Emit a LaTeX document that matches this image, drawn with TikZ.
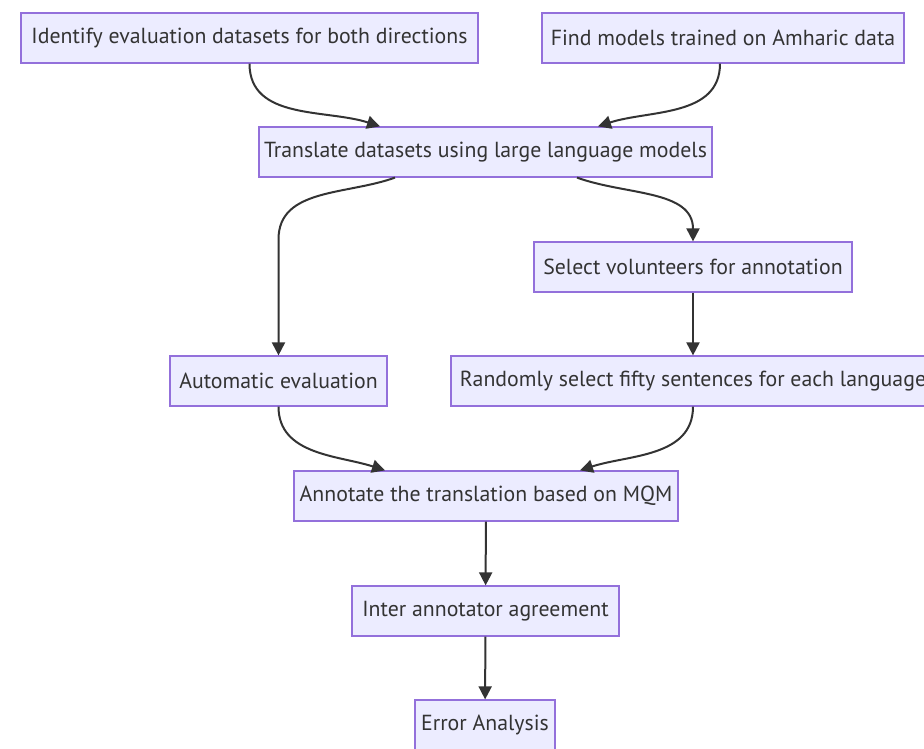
\documentclass[tikz,border=0pt]{standalone}
\usepackage{fontspec}
\setmainfont{PT Sans}
\usetikzlibrary{arrows.meta}
\definecolor{boxfill}{HTML}{ECECFF}
\definecolor{boxline}{HTML}{9370DB}
\definecolor{ink}{HTML}{333333}
\begin{document}
\begin{tikzpicture}[x=1pt,y=1pt]
		\tikzset{task/.style = {shape=rectangle,draw=boxline,fill=boxfill,line width=1.2pt,text=ink,minimum height=50pt,inner sep=0pt,font=\fontsize{21.8}{26}\selectfont}}
		\tikzset{flow/.style = {-{Triangle[length=13pt,width=13pt]},draw=ink,line width=2pt}}
		\useasboundingbox (0,0) rectangle (924,749);
		\node[task,minimum width=457pt] (ident) at (249.5,711) {Identify evaluation datasets for both directions};
		\node[task,minimum width=362pt] (find) at (723,711) {Find models trained on Amharic data};
		\node[task,minimum width=453pt] (trans) at (485.5,597) {Translate datasets using large language models};
		\node[task,minimum width=318pt] (select) at (693,482) {Select volunteers for annotation};
		\node[task,minimum width=217pt] (autom) at (278.5,368) {Automatic evaluation};
		\node[task,minimum width=484pt] (random) at (693,368) {Randomly select fifty sentences for each language};
		\node[task,minimum width=384pt] (annot) at (486,253) {Annotate the translation based on MQM};
		\node[task,minimum width=267pt] (inter) at (485.5,138) {Inter annotator agreement};
		\node[task,minimum width=140pt] (error) at (485,24) {Error Analysis};
		\draw[flow] (ident.south) to[out=-90,in=162] ([xshift=-105.5pt]trans.north);
		\draw[flow] ([xshift=-3pt]find.south) to[out=-90,in=18] ([xshift=112.5pt]trans.north);
		\draw[flow] ([xshift=-90.5pt]trans.south) to[out=200,in=90] ([yshift=116pt]autom.north) -- (autom.north);
		\draw[flow] ([xshift=91.5pt]trans.south) to[out=-20,in=90] (select.north);
		\draw[flow] (select) -- (random);
		\draw[flow] (autom.south) to[out=-90,in=162] ([xshift=-101pt]annot.north);
		\draw[flow] (random.south) to[out=-90,in=18] ([xshift=94pt]annot.north);
		\draw[flow] (annot) -- (inter);
		\draw[flow] (inter) -- (error);
	\end{tikzpicture}
\end{document}
